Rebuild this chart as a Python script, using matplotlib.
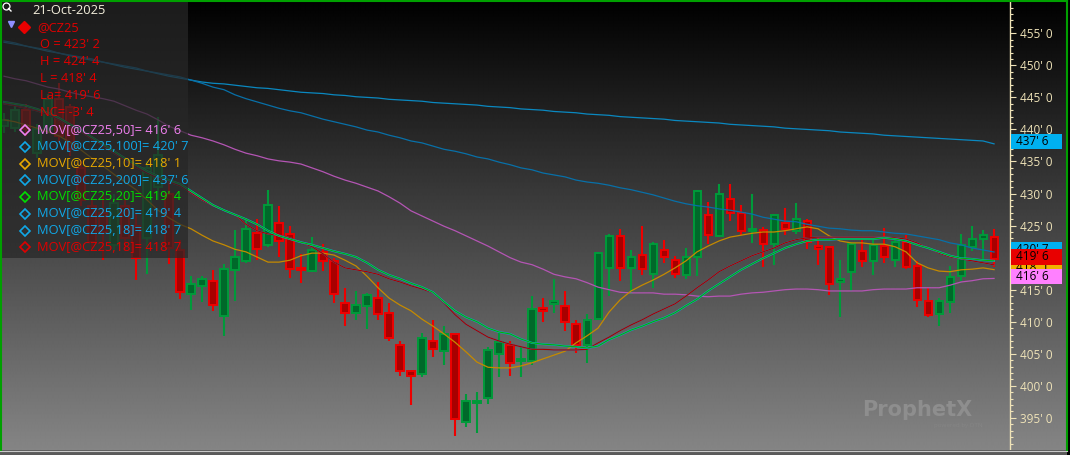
import matplotlib
matplotlib.use("Agg")
import matplotlib.pyplot as plt
from matplotlib.patches import Rectangle
import numpy as np

# ── Data (daily bars, @CZ25) ─────────────────────────────────────────────────
last_date = "21-Oct-2025"
symbol = "@CZ25"

opens = [440.5, 440.2, 443.0, 436.3, 440.0, 444.8, 443.5, 434.0, 428.0, 427.0,
         422.0, 428.0, 425.0, 423.0, 431.0, 430.0, 421.2, 414.3, 415.5, 416.3,
         410.9, 418.1, 419.5, 423.8, 421.9, 425.4, 423.7, 418.4, 417.9, 420.9,
         419.4, 412.9, 411.4, 412.5, 413.7, 411.3, 406.3, 402.3, 401.9, 407.0,
         405.4, 408.1, 394.4, 397.3, 398.1, 405.0, 406.3, 403.8, 403.8, 412.1,
         412.7, 412.5, 409.7, 406.4, 410.5, 418.4, 423.4, 418.4, 420.4, 417.4,
         421.2, 419.6, 417.3, 420.1, 426.6, 423.4, 429.1, 426.9, 424.1, 424.3,
         422.1, 425.4, 424.1, 425.7, 421.8, 421.6, 416.2, 417.7, 421.1, 419.5,
         421.8, 419.6, 422.4, 418.7, 413.3, 411.2, 413.1, 417.1, 421.7, 422.9,
         423.25]
highs = [442.5, 444.0, 443.9, 440.9, 445.5, 447.2, 444.0, 435.0, 429.0, 430.0,
         430.0, 429.5, 427.0, 435.0, 442.0, 432.0, 422.8, 417.1, 417.2, 418.1,
         419.0, 424.3, 426.0, 426.0, 430.6, 428.1, 425.0, 420.6, 423.2, 422.2,
         420.0, 415.3, 414.8, 414.5, 416.2, 412.9, 407.0, 402.3, 408.2, 410.2,
         409.4, 408.1, 398.7, 399.1, 406.1, 408.2, 407.0, 406.2, 414.0, 413.7,
         416.6, 414.8, 410.3, 411.2, 420.9, 423.7, 424.4, 421.2, 425.0, 422.4,
         422.8, 420.3, 421.5, 430.6, 428.7, 431.5, 431.5, 428.2, 429.9, 424.8,
         426.8, 427.7, 428.6, 426.0, 423.1, 421.8, 419.7, 422.5, 423.2, 422.8,
         424.7, 423.0, 423.5, 419.4, 415.3, 413.7, 418.7, 423.7, 424.9, 424.3,
         424.5]
lows = [439.5, 439.6, 439.0, 435.5, 439.5, 438.0, 435.8, 428.0, 421.5, 419.6,
        421.0, 421.0, 416.5, 417.5, 429.0, 419.0, 413.5, 411.9, 413.1, 411.6,
        407.7, 413.2, 419.1, 419.6, 421.7, 420.1, 416.8, 416.0, 417.7, 417.9,
        412.9, 409.4, 410.2, 408.9, 410.2, 407.0, 401.6, 397.0, 401.4, 404.5,
        403.2, 392.1, 393.6, 392.7, 397.1, 401.4, 401.6, 401.4, 403.3, 409.9,
        411.4, 408.6, 405.2, 403.6, 410.3, 414.0, 416.4, 414.3, 417.3, 415.2,
        419.2, 416.9, 416.6, 417.2, 422.2, 423.2, 425.7, 423.5, 422.3, 418.5,
        418.9, 423.6, 423.7, 421.4, 418.9, 414.1, 410.7, 414.8, 418.6, 417.3,
        419.2, 418.6, 418.2, 412.3, 410.7, 409.4, 411.4, 416.4, 421.1, 419.7,
        418.5]
closes = [441.5, 443.0, 440.0, 440.0, 444.8, 439.0, 437.0, 429.0, 422.5, 424.0,
          428.5, 423.0, 420.0, 434.0, 436.0, 421.5, 414.6, 415.9, 416.7, 412.6,
          418.3, 420.1, 424.4, 421.3, 428.2, 422.6, 418.3, 418.0, 421.2, 419.5,
          414.3, 411.3, 412.6, 414.1, 411.2, 407.5, 402.3, 401.6, 407.5, 405.8,
          408.1, 394.8, 397.6, 397.7, 405.6, 406.8, 403.5, 404.2, 412.0, 411.7,
          413.3, 410.0, 406.3, 410.3, 420.7, 423.4, 418.4, 420.1, 418.3, 422.1,
          420.1, 417.4, 420.1, 430.4, 423.6, 429.9, 427.0, 424.1, 424.4, 422.1,
          426.6, 424.5, 426.1, 422.4, 421.4, 415.9, 416.7, 422.1, 419.5, 422.0,
          420.1, 422.4, 418.6, 413.4, 411.1, 413.3, 417.0, 422.0, 422.9, 423.6,
          419.75]

# moving averages, one value per bar
ma50 = [448.3, 447.9, 447.6, 447.1, 446.6, 446.3, 445.8, 445.4, 445.1, 444.8,
        444.4, 443.7, 443.0, 442.4, 441.5, 440.5, 439.8, 439.1, 438.7, 438.2,
        437.6, 436.9, 436.3, 435.9, 435.4, 435.1, 434.9, 434.6, 434.0, 433.4,
        432.7, 432.1, 431.6, 431.0, 430.4, 429.5, 428.5, 427.3, 426.5, 425.7,
        424.9, 424.2, 423.4, 422.6, 421.8, 420.9, 420.0, 419.3, 418.9, 418.2,
        417.4, 417.0, 416.7, 416.1, 415.4, 415.0, 414.6, 414.5, 414.5, 414.5,
        414.3, 414.3, 414.2, 414.0, 413.9, 414.0, 414.0, 414.3, 414.5, 414.6,
        414.8, 415.0, 415.1, 415.1, 415.0, 414.8, 414.8, 414.8, 414.8, 415.0,
        415.1, 415.1, 415.1, 415.3, 415.3, 415.3, 415.7, 416.2, 416.4, 416.7,
        416.75]
ma100 = [453.8, 453.5, 453.0, 452.7, 452.4, 451.9, 451.6, 451.3, 451.0, 450.5,
         450.2, 449.9, 449.6, 449.1, 448.8, 448.5, 448.2, 447.7, 447.2, 446.6,
         446.2, 445.4, 444.8, 444.3, 443.8, 443.3, 442.9, 442.6, 442.1, 441.6,
         441.2, 440.8, 440.4, 439.9, 439.6, 439.1, 438.7, 438.2, 437.9, 437.4,
         436.9, 436.6, 436.2, 435.7, 435.4, 434.9, 434.5, 434.0, 433.7, 433.2,
         432.9, 432.6, 432.1, 431.8, 431.6, 431.3, 430.9, 430.6, 430.2, 429.8,
         429.3, 428.8, 428.4, 428.1, 427.9, 427.6, 427.4, 427.1, 426.8, 426.3,
         426.0, 425.7, 425.6, 425.2, 424.9, 424.6, 424.5, 424.3, 424.2, 424.2,
         424.0, 423.8, 423.7, 423.4, 423.1, 422.8, 422.3, 422.0, 421.5, 421.2,
         420.875]
ma10 = [441.5, 441.2, 440.7, 440.2, 439.6, 439.0, 438.0, 436.8, 435.5, 434.3,
        433.0, 431.8, 430.6, 429.0, 427.4, 426.2, 425.2, 424.5, 423.5, 422.6,
        422.0, 421.3, 420.9, 420.1, 419.3, 419.3, 419.6, 420.3, 420.7, 420.7,
        420.4, 419.6, 418.7, 417.1, 415.3, 413.7, 412.6, 411.7, 410.4, 409.3,
        408.1, 406.8, 405.3, 403.7, 402.9, 402.8, 402.8, 403.1, 403.6, 404.2,
        404.8, 405.4, 406.7, 407.8, 409.0, 411.5, 413.4, 414.8, 415.7, 416.5,
        417.4, 418.4, 419.5, 420.9, 421.8, 422.6, 423.2, 423.5, 423.8, 424.0,
        424.0, 424.2, 424.5, 424.8, 424.5, 423.4, 422.6, 422.3, 422.3, 422.1,
        422.1, 421.7, 420.9, 419.2, 418.4, 417.9, 417.8, 418.1, 418.2, 418.4,
        418.125]
ma200 = [453.6, 453.3, 453.0, 452.6, 452.2, 451.9, 451.5, 451.1, 450.8, 450.5,
         450.1, 449.7, 449.4, 449.1, 448.7, 448.3, 448.0, 447.7, 447.4, 447.2,
         447.1, 446.9, 446.7, 446.5, 446.4, 446.2, 446.0, 445.8, 445.7, 445.6,
         445.4, 445.3, 445.1, 445.0, 444.9, 444.7, 444.6, 444.5, 444.4, 444.2,
         444.1, 444.0, 443.9, 443.8, 443.6, 443.5, 443.4, 443.2, 443.1, 443.0,
         442.8, 442.7, 442.6, 442.4, 442.3, 442.2, 442.0, 441.9, 441.8, 441.7,
         441.6, 441.4, 441.3, 441.2, 441.1, 441.0, 440.8, 440.7, 440.6, 440.5,
         440.4, 440.2, 440.1, 440.0, 439.9, 439.8, 439.6, 439.5, 439.4, 439.3,
         439.1, 439.0, 438.9, 438.8, 438.7, 438.6, 438.5, 438.4, 438.3, 438.2,
         437.75]
ma20 = [444.3, 444.0, 443.7, 443.2, 442.6, 441.8, 440.8, 439.9, 438.8, 437.7,
        436.6, 435.5, 434.5, 433.5, 432.7, 432.1, 431.5, 430.4, 429.3, 428.2,
        427.4, 426.7, 426.0, 425.2, 424.2, 423.4, 422.9, 422.4, 422.0, 421.5,
        421.0, 420.6, 420.1, 419.2, 418.1, 417.3, 416.7, 416.0, 415.4, 414.6,
        413.1, 411.7, 410.7, 410.0, 409.0, 408.4, 408.1, 407.3, 406.7, 406.5,
        406.4, 406.2, 406.1, 405.9, 406.2, 407.2, 407.9, 408.7, 409.3, 410.0,
        410.6, 411.4, 412.5, 413.5, 414.8, 415.9, 417.0, 418.1, 419.0, 419.9,
        420.7, 421.5, 422.1, 422.6, 422.8, 422.8, 422.9, 422.9, 422.9, 422.9,
        423.1, 422.9, 422.6, 422.0, 421.5, 420.9, 420.3, 419.9, 419.8, 419.6,
        419.5]
ma18 = [444.0, 443.7, 443.3, 442.9, 442.3, 441.5, 440.5, 439.6, 438.5, 437.4,
        436.3, 435.2, 434.1, 433.2, 432.4, 431.8, 431.2, 430.1, 429.0, 428.1,
        427.4, 426.7, 425.2, 424.2, 423.7, 423.5, 423.1, 422.4, 421.7, 420.6,
        419.3, 418.4, 418.1, 417.8, 417.4, 416.7, 416.2, 415.6, 415.1, 414.5,
        412.9, 411.1, 409.6, 408.6, 407.6, 407.0, 406.5, 406.1, 405.7, 405.7,
        405.6, 405.6, 405.6, 405.7, 406.7, 407.6, 408.6, 409.5, 410.3, 411.2,
        412.0, 412.8, 414.0, 415.3, 416.5, 417.8, 418.7, 419.5, 420.3, 420.9,
        421.5, 422.3, 422.8, 423.1, 423.2, 423.2, 423.2, 423.2, 423.2, 423.2,
        423.2, 423.1, 422.9, 422.3, 421.5, 420.7, 420.1, 419.8, 419.5, 419.2,
        418.875]

ohlc_text = ["O = 423' 2", "H = 424' 4", "L = 418' 4", "La= 419' 6", "NC= -3' 4"]
last_price = 419.75

# legend rows: (label, legend colour)
studies = [
    ("MOV[@CZ25,50]= 416' 6",  "#f080f0"),
    ("MOV[@CZ25,100]= 420' 7", "#10a8e8"),
    ("MOV[@CZ25,10]= 418' 1",  "#e8a800"),
    ("MOV[@CZ25,200]= 437' 6", "#10a8e8"),
    ("MOV[@CZ25,20]= 419' 4",  "#00e000"),
    ("MOV[@CZ25,20]= 419' 4",  "#10a8e8"),
    ("MOV[@CZ25,18]= 418' 7",  "#10a8e8"),
    ("MOV[@CZ25,18]= 418' 7",  "#e00000"),
]

CREAM = "#efe3b8"
UP_EDGE, UP_FILL = "#009a3a", "#00692a"
DN_EDGE, DN_FILL = "#ee0000", "#a80000"


def fmt_price(p):
    whole = int(np.floor(p + 1e-9))
    eighths = int(round((p - whole) * 8))
    return f"{whole}' {eighths}"


W, H = 1070, 455
fig = plt.figure(figsize=(W / 100, H / 100), dpi=100, facecolor="black")
plt.rcParams["font.family"] = ["Open Sans", "DejaVu Sans"]

# ── background gradient ─────────────────────────────────────────────────────
bg = fig.add_axes([0, 0, 1, 1], zorder=0)
grad = np.linspace(0.0, 0.52, 450)[:, None] * np.ones((1, 10))
bg.imshow(grad, extent=[0, 1066, 450, 0], aspect="auto", cmap="gray",
          vmin=0, vmax=1, interpolation="bilinear")
bg.set_xlim(0, W)
bg.set_ylim(H, 0)
bg.axis("off")

# ── main price axes ─────────────────────────────────────────────────────────
n = len(closes)
x = np.arange(n)
ax = fig.add_axes([2 / W, 5 / H, 1008 / W, 448 / H], zorder=1)
ax.set_facecolor("none")
ax.set_xlim(-0.18, 91.45)
ax.set_ylim(389.99, 459.88)

for i in range(n):
    o, c = opens[i], closes[i]
    up = c >= o
    edge, fill = (UP_EDGE, UP_FILL) if up else (DN_EDGE, DN_FILL)
    ax.vlines(i, lows[i], highs[i], color=edge, lw=1.5, zorder=2)
    lo, hi = min(o, c), max(o, c)
    ax.add_patch(Rectangle((i - 0.32, lo), 0.64, max(hi - lo, 0.08),
                           facecolor=fill, edgecolor=edge, lw=1.4, zorder=3))

ax.plot(x, ma50, color="#b455b4", lw=0.9, zorder=4)
ax.plot(x, ma200, color="#0a88c0", lw=0.9, zorder=4)
ax.plot(x, ma100, color="#0870a8", lw=0.9, zorder=4)
ax.plot(x, ma10, color="#c58a00", lw=0.9, zorder=4)
ax.plot(x, ma18, color="#10a0e0", lw=0.9, zorder=4)
ax.plot(x, ma18, color="#a80000", lw=0.9, zorder=4)
ax.plot(x, ma20, color="#10a0e0", lw=1.4, zorder=4)
ax.plot(x, ma20, color="#00b400", lw=0.8, zorder=4)

for s in ["top", "left", "bottom"]:
    ax.spines[s].set_visible(False)
ax.spines["right"].set_color(CREAM)
ax.spines["right"].set_linewidth(1.0)
ax.set_xticks([])
ax.yaxis.tick_right()
ax.set_yticks(np.arange(395, 456, 5))
ax.set_yticks(np.arange(391, 460, 1), minor=True)
ax.set_yticklabels([f"{v}' 0" for v in range(395, 456, 5)])
ax.tick_params(axis="y", which="major", length=4.5, width=0.8, color=CREAM,
               labelcolor=CREAM, labelsize=8.5, pad=3)
ax.tick_params(axis="y", which="minor", length=2, width=0.8, color=CREAM)

# ── price flags on the right scale (later flags sit on top) ─────────────────
axr = fig.add_axes([1011 / W, 5 / H, 54 / W, 448 / H], sharey=ax, zorder=2)
axr.set_xlim(0, 1)
axr.axis("off")
flags = [(ma200[-1], "#00b0f0"), (ma100[-1], "#00b0f0"), (ma10[-1], "#f0b000"),
         (last_price, "#e80000"), (ma50[-1], "#ff80ff")]
for k, (val, col) in enumerate(flags):
    axr.add_patch(Rectangle((0.0, val + 0.35 - 1.2), 0.95, 2.4,
                            facecolor=col, edgecolor="none", zorder=3 + 2 * k))
    axr.text(0.1, val + 0.35, fmt_price(val), color="black", fontsize=8.5,
             va="center", ha="left", zorder=4 + 2 * k)

# ── overlay: legend box, texts, border, watermark ───────────────────────────
ov = fig.add_axes([0, 0, 1, 1], zorder=3)
ov.set_xlim(0, W)
ov.set_ylim(H, 0)
ov.axis("off")
ov.add_patch(Rectangle((0, 0), 188, 258, facecolor="#272727", alpha=0.72,
                       edgecolor="none"))

# magnifier icon
ov.plot([6], [6], marker="o", ms=5, mfc="none", mec="white", mew=0.9)
ov.plot([8.5, 11], [8.5, 11], color="white", lw=1)
ov.text(32, 11, last_date, color="#f4efdc", fontsize=9.3, va="center")
ov.plot([11], [24], marker="v", ms=4, color="#8f8fff")
ov.plot([24], [27], marker="D", ms=6, color="#e80000")
ov.text(37, 28, symbol, color="#e00000", fontsize=9.3, va="center")
for k, t in enumerate(ohlc_text):
    ov.text(40, 45 + 16.8 * k, t, color="#e00000", fontsize=9.3, va="center")
for k, (t, col) in enumerate(studies):
    yy = 130 + 16.75 * k
    ov.plot([25], [yy], marker="D", ms=5.5, mfc="none", mec=col, mew=1.2)
    ov.text(37, yy, t, color=col, fontsize=9.3, va="center")

# watermark
ov.text(917, 410, "ProphetX", color="#8e8e8e", fontsize=15, fontweight="bold",
        ha="center", va="center", family="DejaVu Sans")
ov.text(958, 425, "powered by DTN", color="#858585", fontsize=4.5,
        ha="center", va="center")

# frame
ov.plot([0.7, 0.7], [0, 451], color="#00a000", lw=1.5)
ov.plot([0, 1067], [0.7, 0.7], color="#00a000", lw=1.5)
ov.plot([1066.5, 1066.5], [0, 451], color="#00a000", lw=1.5)
ov.add_patch(Rectangle((0, 450), 1067, 5, facecolor="#5a5a5a", edgecolor="none"))
ov.plot([0, 1067], [450.5, 450.5], color="#c8c8c8", lw=0.8)

fig.savefig("out.png", dpi=100, facecolor="black")
